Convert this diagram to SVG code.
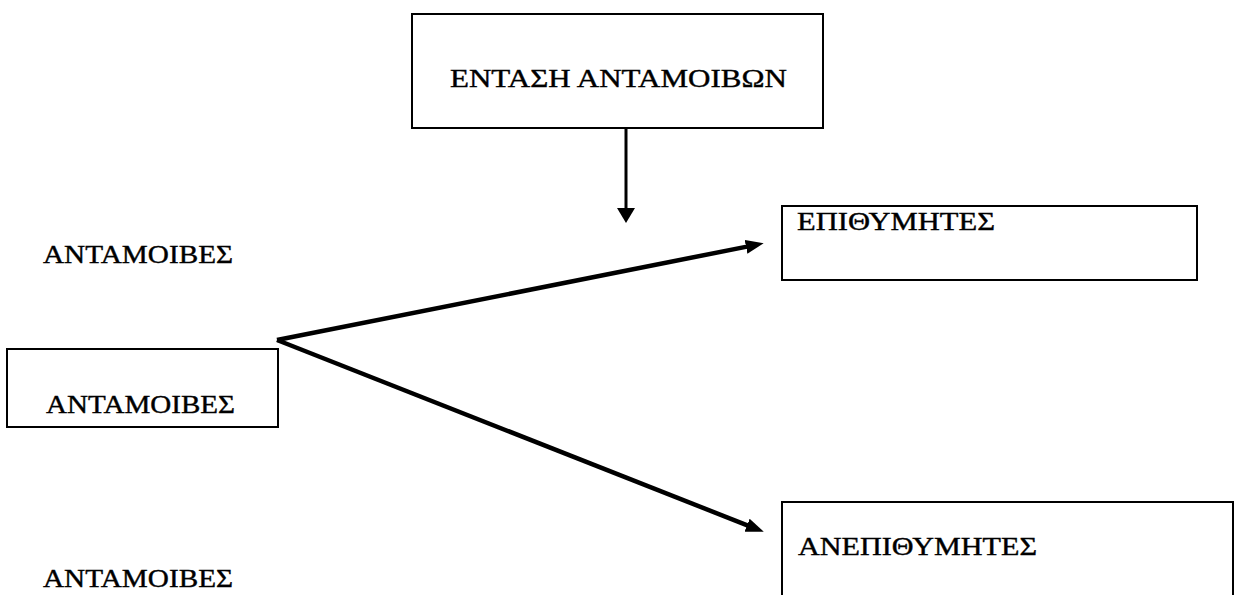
<svg xmlns="http://www.w3.org/2000/svg" width="1237" height="595" viewBox="0 0 1237 595">
<style>
.box{fill:#fff;stroke:#000;stroke-width:2}
.t{font-family:"Liberation Serif","DejaVu Serif",serif;font-size:26px;fill:#000;stroke:#000;stroke-width:0.4}
.c{stroke:#000;fill:none}
</style>
<defs>
<marker id="ah" markerUnits="userSpaceOnUse" markerWidth="20" markerHeight="16" refX="1" refY="7" orient="auto">
<path d="M0,0 L18,7 L0,14 z" fill="#000"/>
</marker>
<marker id="ahs" markerUnits="userSpaceOnUse" markerWidth="20" markerHeight="20" refX="1" refY="9" orient="auto">
<path d="M0,0 L15,9 L0,18 z" fill="#000"/>
</marker>
</defs>
<rect width="1237" height="595" fill="#fff"/>
<g id="node-entasi">
<rect class="box" x="412" y="14" width="411" height="114"/>
<text class="t" x="450" y="87" textLength="337" lengthAdjust="spacingAndGlyphs">ΕΝΤΑΣΗ ΑΝΤΑΜΟΙΒΩΝ</text>
</g>
<g id="node-antamoives">
<rect class="box" x="7" y="349" width="271" height="78"/>
<text class="t" x="46" y="413" textLength="189" lengthAdjust="spacingAndGlyphs">ΑΝΤΑΜΟΙΒΕΣ</text>
</g>
<g id="node-epithymites">
<rect class="box" x="782" y="206" width="415" height="74"/>
<text class="t" x="797" y="230" textLength="198" lengthAdjust="spacingAndGlyphs">ΕΠΙΘΥΜΗΤΕΣ</text>
</g>
<g id="node-anepithymites">
<rect class="box" x="782" y="502" width="451" height="110"/>
<text class="t" x="798" y="555" textLength="239" lengthAdjust="spacingAndGlyphs">ΑΝΕΠΙΘΥΜΗΤΕΣ</text>
</g>
<g id="label-top">
<text class="t" x="43" y="263" textLength="190" lengthAdjust="spacingAndGlyphs">ΑΝΤΑΜΟΙΒΕΣ</text>
</g>
<g id="label-bottom">
<text class="t" x="43" y="587" textLength="190" lengthAdjust="spacingAndGlyphs">ΑΝΤΑΜΟΙΒΕΣ</text>
</g>
<g id="connectors">
<path class="c" d="M626,128 L626,209" stroke-width="3" marker-end="url(#ahs)"/>
<path class="c" d="M277,340 L747,246.6" stroke-width="4.5" marker-end="url(#ah)"/>
<path class="c" d="M277,340 L748,525.6" stroke-width="4.5" marker-end="url(#ah)"/>
</g>
</svg>
